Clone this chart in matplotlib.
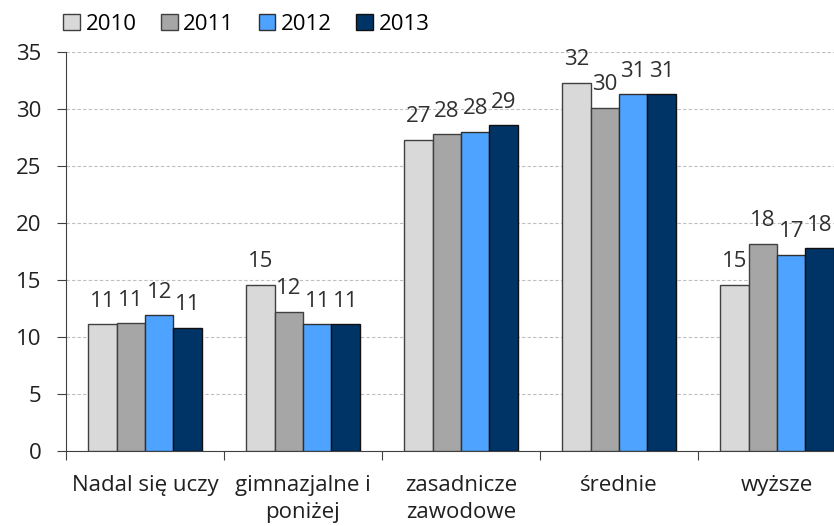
import numpy as np
import matplotlib
matplotlib.use("Agg")
import matplotlib.pyplot as plt

plt.rcParams["font.family"] = ["Open Sans", "DejaVu Sans"]

# dane
categories = ["Nadal się uczy", "gimnazjalne i\nponiżej", "zasadnicze\nzawodowe", "średnie", "wyższe"]
years = ["2010", "2011", "2012", "2013"]
v2010 = [11.1, 14.6, 27.3, 32.3, 14.6]
v2011 = [11.2, 12.2, 27.8, 30.1, 18.2]
v2012 = [11.9, 11.1, 28.0, 31.3, 17.2]
v2013 = [10.8, 11.1, 28.6, 31.3, 17.8]
series = [v2010, v2011, v2012, v2013]
colors = ["#D9D9D9", "#A6A6A6", "#4DA3FF", "#003366"]
edges = ["#404040", "#404040", "#303030", "#101010"]

FS = 16

fig = plt.figure(figsize=(8.34, 5.26), dpi=100)
ax = fig.add_axes([0.0791, 0.1426, 0.9473, 0.7584])

x = np.arange(len(categories))
w = 0.18
for i, (vals, c) in enumerate(zip(series, colors)):
    pos = x + (i - 1.5) * w
    ax.bar(pos, vals, w, color=c, edgecolor=edges[i], linewidth=1.0,
           label=years[i], zorder=3)
    for xx, v in zip(pos, vals):
        ax.annotate(f"{v:.0f}", xy=(xx, v), xytext=(0, 9), textcoords="offset points",
                    ha="center", va="bottom", fontsize=FS, color="#303030")

ax.set_xlim(-0.5, len(categories) - 0.5)
ax.set_ylim(0, 35)
ax.set_yticks(range(0, 36, 5))
ax.yaxis.grid(True, linestyle=(0, (3, 2)), color="#BFBFBF", linewidth=0.8, zorder=0)
ax.set_axisbelow(True)

ax.set_xticks(np.arange(-0.5, len(categories), 1.0))
ax.set_xticklabels([])
ax.set_xticks(x, minor=True)
ax.set_xticklabels(categories, minor=True, fontsize=FS, color="#202020", linespacing=1.4)
ax.tick_params(axis="x", which="minor", length=0, pad=17)
ax.tick_params(axis="x", which="major", length=6.5, direction="out", color="#404040")
ax.tick_params(axis="y", length=6.5, direction="out", color="#404040", labelsize=FS,
               labelcolor="#202020", pad=11)

for s in ["top", "right"]:
    ax.spines[s].set_visible(False)
ax.spines["left"].set_color("#404040")
ax.spines["bottom"].set_color("#404040")

fig.legend(loc="upper left", bbox_to_anchor=(0.052, 1.012), ncol=4, frameon=False,
           fontsize=FS, handlelength=0.75, handleheight=0.75, handletextpad=0.25,
           columnspacing=1.1)

fig.savefig("out.png", dpi=100)
